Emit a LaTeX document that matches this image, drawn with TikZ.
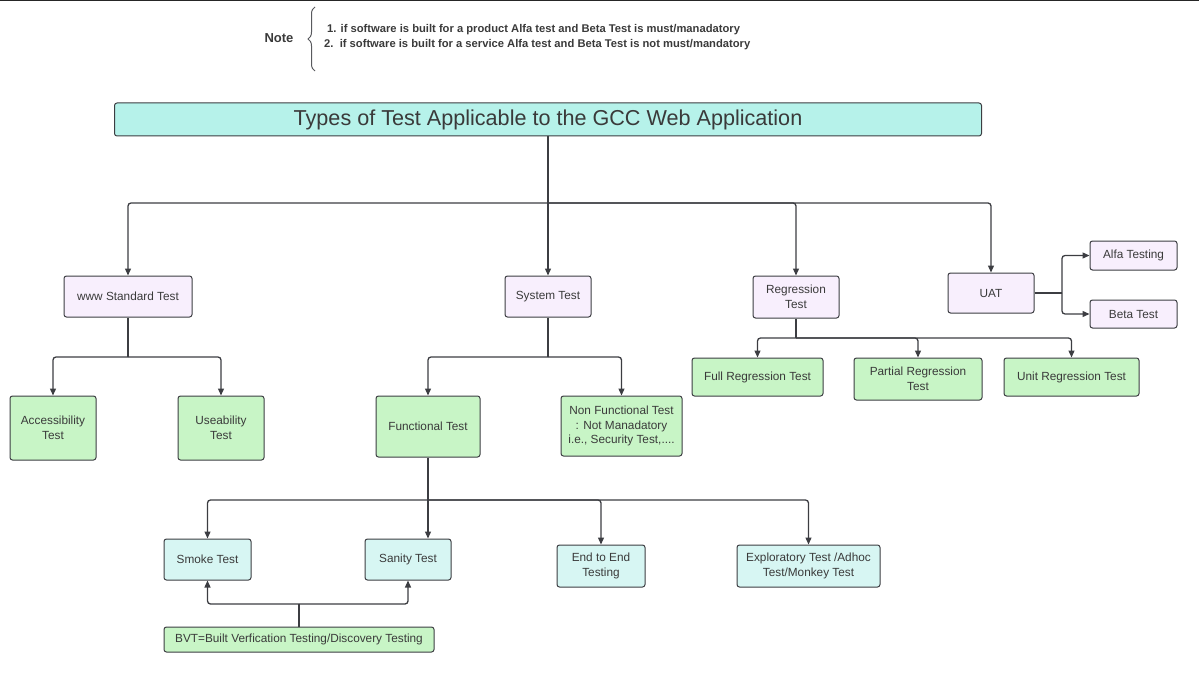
\documentclass[tikz,border=0pt]{standalone}
\usepackage{fontspec}
\setmainfont{Liberation Sans}
\usetikzlibrary{arrows.meta,positioning,decorations.pathreplacing}
\definecolor{lav}{HTML}{F8EFFD}
\definecolor{mint}{HTML}{C8F5C6}
\definecolor{aqua}{HTML}{D7F6F3}
\definecolor{titlefill}{HTML}{B6F2EA}
\definecolor{wire}{HTML}{3C3D42}
\definecolor{txt}{HTML}{3A3A3A}
\begin{document}
\begin{tikzpicture}[x=1pt,y=-1pt,
    box/.style={draw=wire,line width=1pt,rounded corners=2.5pt,text=txt,align=center,inner sep=0pt,
        font=\fontsize{11.8}{14.5}\selectfont},
    link/.style={draw=wire,line width=1.3pt,rounded corners=3pt},
    arr/.style={link,-{Triangle[width=6pt,length=7pt]}},
    notetext/.style={text=txt,font=\fontsize{11.2}{12}\selectfont\bfseries,inner sep=0pt,anchor=west}]
    \useasboundingbox (0,0) rectangle (1199,674);
    \fill[black!85] (0,0) rectangle (1199,1.5);

    \node[text=txt,font=\fontsize{13}{14}\selectfont\bfseries] (note) at (279,38) {Note};
    \draw[wire!85,line width=1pt,decorate,decoration={brace,amplitude=7pt}] (315,71) -- (315,7);
    \node[notetext] (noteA) at (327,30) {1. if software is built for a product Alfa test and Beta Test is must/manadatory};
    \node[notetext] (noteB) at (324,45) {2.\ \ if software is built for a service Alfa test and Beta Test is not must/mandatory};

    \node[box,fill=titlefill,minimum width=867pt,minimum height=33pt,font=\fontsize{21.6}{23}\selectfont] (title) at (548,119.5) {Types of Test Applicable to the GCC Web Application};

    \node[box,fill=lav,minimum width=128pt,minimum height=41pt] (www) at (128,296.5) {www Standard Test};
    \node[box,fill=lav,minimum width=86pt,minimum height=41pt] (sys) at (548,296.5) {System Test};
    \node[box,fill=lav,minimum width=86pt,minimum height=42pt] (reg) at (796,297) {Regression\\Test};
    \node[box,fill=lav,minimum width=86pt,minimum height=40pt] (uat) at (991,293) {UAT};
    \node[box,fill=lav,minimum width=87pt,minimum height=29pt] (alfa) at (1133.5,255.5) {Alfa Testing};
    \node[box,fill=lav,minimum width=87pt,minimum height=28pt] (beta) at (1133.5,314) {Beta Test};

    \node[box,fill=mint,minimum width=86pt,minimum height=64pt] (acc) at (53,428) {Accessibility\\Test};
    \node[box,fill=mint,minimum width=86pt,minimum height=64pt] (use) at (221,428) {Useability\\Test};
    \node[box,fill=mint,minimum width=104pt,minimum height=61pt] (fun) at (428,426.5) {Functional Test};
    \node[box,fill=mint,minimum width=121pt,minimum height=60pt] (nonfun) at (621.5,426) {Non Functional Test\\: Not Manadatory\\i.e., Security Test,....};
    \node[box,fill=mint,minimum width=131pt,minimum height=38pt] (full) at (757.5,377) {Full Regression Test};
    \node[box,fill=mint,minimum width=128pt,minimum height=42pt] (part) at (918,379) {Partial Regression\\Test};
    \node[box,fill=mint,minimum width=135pt,minimum height=38pt] (unit) at (1071.5,377) {Unit Regression Test};

    \node[box,fill=aqua,minimum width=87pt,minimum height=41pt] (smoke) at (207.5,559.5) {Smoke Test};
    \node[box,fill=aqua,minimum width=86pt,minimum height=41pt] (sanity) at (408,559.5) {Sanity Test};
    \node[box,fill=aqua,minimum width=88pt,minimum height=42pt] (e2e) at (601,566) {End to End\\Testing};
    \node[box,fill=aqua,minimum width=143pt,minimum height=42pt] (explore) at (808.5,566) {Exploratory Test /Adhoc\\Test/Monkey Test};
    \node[box,fill=mint,minimum width=270pt,minimum height=25pt] (bvt) at (299,639.5) {BVT=Built Verfication Testing/Discovery Testing};

    \coordinate (hub) at (548,203);
    \draw[link] (title.south) -- (hub);
    \draw[arr] (hub) -| (www.north);
    \draw[arr] (hub) -- (sys.north);
    \draw[arr] (hub) -| (reg.north);
    \draw[arr] (hub) -| (uat.north);

    \coordinate (uatJoin) at (1062,293);
    \draw[link] (uat.east) -- (uatJoin);
    \draw[arr] (uatJoin) |- (alfa.west);
    \draw[arr] (uatJoin) |- (beta.west);

    \coordinate (wwwJoin) at (128,357);
    \draw[link] (www.south) -- (wwwJoin);
    \draw[arr] (wwwJoin) -| (acc.north);
    \draw[arr] (wwwJoin) -| (use.north);

    \coordinate (sysJoin) at (548,357);
    \draw[link] (sys.south) -- (sysJoin);
    \draw[arr] (sysJoin) -| (fun.north);
    \draw[arr] (sysJoin) -| (nonfun.north);

    \coordinate (regJoin) at (796,338);
    \draw[link] (reg.south) -- (regJoin);
    \draw[arr] (regJoin) -| (full.north);
    \draw[arr] (regJoin) -| (part.north);
    \draw[arr] (regJoin) -| (unit.north);

    \coordinate (funJoin) at (428,500);
    \draw[link] (fun.south) -- (funJoin);
    \draw[arr] (funJoin) -| (smoke.north);
    \draw[arr] (funJoin) -- (funJoin |- sanity.north);
    \draw[arr] (funJoin) -| (e2e.north);
    \draw[arr] (funJoin) -| (explore.north);

    \coordinate (bvtJoin) at (299,604);
    \draw[link] (bvt.north) -- (bvtJoin);
    \draw[arr] (bvtJoin) -| (smoke.south);
    \draw[arr] (bvtJoin) -| (sanity.south);
\end{tikzpicture}
\end{document}
